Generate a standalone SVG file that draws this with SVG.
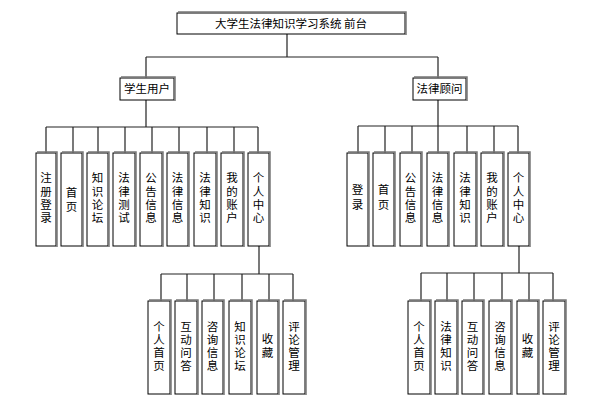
<svg xmlns="http://www.w3.org/2000/svg" width="592" height="400" viewBox="0 0 592 400">
<style>
.b{fill:#fff;stroke:#000;stroke-width:1}
.s{fill:none;stroke:#777;stroke-width:1.5}
.t{font-family:"Noto Sans CJK SC","Noto Sans CJK JP",sans-serif;font-size:11.5px;fill:#000;text-anchor:middle}
.c{fill:none;stroke:#222;stroke-width:1.2}
</style>
<rect width="592" height="400" fill="#fff"/>
<g id="connectors">
<path class="c" d="M287 34V57M146 57H438M146 57V78M438 57V78"/>
<path class="c" d="M146 100V127M46 127H258M46 127V153M73 127V153M98 127V153M125 127V153M152 127V153M179 127V153M207 127V153M234 127V153M258 127V153"/>
<path class="c" d="M438 100V126M358 126H518M358 126V153M385 126V153M412 126V153M438 126V153M467 126V153M494 126V153M518 126V153"/>
<path class="c" d="M259 246V274M161 274H293M161 274V301M187 274V301M214 274V301M242 274V301M269 274V301M293 274V301"/>
<path class="c" d="M519 246V273M421 273H553M421 273V301M447 273V301M474 273V301M502 273V301M529 273V301M553 273V301"/>
</g>
<g id="root"><rect class="b" x="177" y="13" width="228" height="21"/><path class="s" d="M178 12H406V35"/><text class="t" x="291" y="27.5">大学生法律知识学习系统 前台</text></g>
<g id="student"><rect class="b" x="120" y="78" width="54" height="22"/><path class="s" d="M121 77H175V101"/><text class="t" x="147" y="93">学生用户</text></g>
<g id="lawyer"><rect class="b" x="413" y="78" width="53" height="22"/><path class="s" d="M414 77H467V101"/><text class="t" x="439.5" y="93">法律顾问</text></g>

<g id="s1"><rect class="b" x="36" y="153" width="20" height="93"/><path class="s" d="M37 152H57V247"/><text class="t" x="46"><tspan x="46" y="182">注</tspan><tspan x="46" y="196">册</tspan><tspan x="46" y="209">登</tspan><tspan x="46" y="222">录</tspan></text></g>
<g id="s2"><rect class="b" x="61" y="153" width="21" height="93"/><path class="s" d="M62 152H83V247"/><text class="t"><tspan x="71.5" y="197">首</tspan><tspan x="71.5" y="211">页</tspan></text></g>
<g id="s3"><rect class="b" x="87" y="153" width="21" height="93"/><path class="s" d="M88 152H109V247"/><text class="t"><tspan x="97.5" y="182">知</tspan><tspan x="97.5" y="196">识</tspan><tspan x="97.5" y="209">论</tspan><tspan x="97.5" y="222">坛</tspan></text></g>
<g id="s4"><rect class="b" x="113" y="153" width="22" height="93"/><path class="s" d="M114 152H136V247"/><text class="t"><tspan x="124" y="182">法</tspan><tspan x="124" y="196">律</tspan><tspan x="124" y="209">测</tspan><tspan x="124" y="222">试</tspan></text></g>
<g id="s5"><rect class="b" x="140" y="153" width="22" height="93"/><path class="s" d="M141 152H163V247"/><text class="t"><tspan x="151" y="182">公</tspan><tspan x="151" y="196">告</tspan><tspan x="151" y="209">信</tspan><tspan x="151" y="222">息</tspan></text></g>
<g id="s6"><rect class="b" x="167" y="153" width="21" height="93"/><path class="s" d="M168 152H189V247"/><text class="t"><tspan x="177.5" y="182">法</tspan><tspan x="177.5" y="196">律</tspan><tspan x="177.5" y="209">信</tspan><tspan x="177.5" y="222">息</tspan></text></g>
<g id="s7"><rect class="b" x="194" y="153" width="22" height="93"/><path class="s" d="M195 152H217V247"/><text class="t"><tspan x="205" y="182">法</tspan><tspan x="205" y="196">律</tspan><tspan x="205" y="209">知</tspan><tspan x="205" y="222">识</tspan></text></g>
<g id="s8"><rect class="b" x="221" y="153" width="22" height="93"/><path class="s" d="M222 152H244V247"/><text class="t"><tspan x="232" y="182">我</tspan><tspan x="232" y="196">的</tspan><tspan x="232" y="209">账</tspan><tspan x="232" y="222">户</tspan></text></g>
<g id="s9"><rect class="b" x="248" y="153" width="21" height="93"/><path class="s" d="M249 152H270V247"/><text class="t"><tspan x="258.5" y="182">个</tspan><tspan x="258.5" y="196">人</tspan><tspan x="258.5" y="209">中</tspan><tspan x="258.5" y="222">心</tspan></text></g>

<g id="l1"><rect class="b" x="347" y="153" width="21" height="93"/><path class="s" d="M348 152H369V247"/><text class="t"><tspan x="357.5" y="194">登</tspan><tspan x="357.5" y="209">录</tspan></text></g>
<g id="l2"><rect class="b" x="373" y="153" width="21" height="93"/><path class="s" d="M374 152H395V247"/><text class="t"><tspan x="383.5" y="194">首</tspan><tspan x="383.5" y="209">页</tspan></text></g>
<g id="l3"><rect class="b" x="400" y="153" width="21" height="93"/><path class="s" d="M401 152H422V247"/><text class="t"><tspan x="410.5" y="182">公</tspan><tspan x="410.5" y="196">告</tspan><tspan x="410.5" y="209">信</tspan><tspan x="410.5" y="222">息</tspan></text></g>
<g id="l4"><rect class="b" x="427" y="153" width="21" height="93"/><path class="s" d="M428 152H449V247"/><text class="t"><tspan x="437.5" y="182">法</tspan><tspan x="437.5" y="196">律</tspan><tspan x="437.5" y="209">信</tspan><tspan x="437.5" y="222">息</tspan></text></g>
<g id="l5"><rect class="b" x="454" y="153" width="22" height="93"/><path class="s" d="M455 152H477V247"/><text class="t"><tspan x="465" y="182">法</tspan><tspan x="465" y="196">律</tspan><tspan x="465" y="209">知</tspan><tspan x="465" y="222">识</tspan></text></g>
<g id="l6"><rect class="b" x="481" y="153" width="22" height="93"/><path class="s" d="M482 152H504V247"/><text class="t"><tspan x="492" y="182">我</tspan><tspan x="492" y="196">的</tspan><tspan x="492" y="209">账</tspan><tspan x="492" y="222">户</tspan></text></g>
<g id="l7"><rect class="b" x="508" y="153" width="21" height="93"/><path class="s" d="M509 152H530V247"/><text class="t"><tspan x="518.5" y="182">个</tspan><tspan x="518.5" y="196">人</tspan><tspan x="518.5" y="209">中</tspan><tspan x="518.5" y="222">心</tspan></text></g>

<g id="sp1"><rect class="b" x="148" y="301" width="22" height="93"/><path class="s" d="M149 300H171V395"/><text class="t"><tspan x="159" y="331">个</tspan><tspan x="159" y="344">人</tspan><tspan x="159" y="357">首</tspan><tspan x="159" y="370">页</tspan></text></g>
<g id="sp2"><rect class="b" x="175" y="301" width="22" height="93"/><path class="s" d="M176 300H198V395"/><text class="t"><tspan x="186" y="331">互</tspan><tspan x="186" y="344">动</tspan><tspan x="186" y="357">问</tspan><tspan x="186" y="370">答</tspan></text></g>
<g id="sp3"><rect class="b" x="202" y="301" width="21" height="93"/><path class="s" d="M203 300H224V395"/><text class="t"><tspan x="212.5" y="331">咨</tspan><tspan x="212.5" y="344">询</tspan><tspan x="212.5" y="357">信</tspan><tspan x="212.5" y="370">息</tspan></text></g>
<g id="sp4"><rect class="b" x="229" y="301" width="22" height="93"/><path class="s" d="M230 300H252V395"/><text class="t"><tspan x="240" y="331">知</tspan><tspan x="240" y="344">识</tspan><tspan x="240" y="357">论</tspan><tspan x="240" y="370">坛</tspan></text></g>
<g id="sp5"><rect class="b" x="257" y="301" width="21" height="93"/><path class="s" d="M258 300H279V395"/><text class="t"><tspan x="267.5" y="343">收</tspan><tspan x="267.5" y="357">藏</tspan></text></g>
<g id="sp6"><rect class="b" x="283" y="301" width="22" height="93"/><path class="s" d="M284 300H306V395"/><text class="t"><tspan x="294" y="331">评</tspan><tspan x="294" y="344">论</tspan><tspan x="294" y="357">管</tspan><tspan x="294" y="370">理</tspan></text></g>

<g id="lp1"><rect class="b" x="408" y="301" width="22" height="93"/><path class="s" d="M409 300H431V395"/><text class="t"><tspan x="419" y="331">个</tspan><tspan x="419" y="344">人</tspan><tspan x="419" y="357">首</tspan><tspan x="419" y="370">页</tspan></text></g>
<g id="lp2"><rect class="b" x="435" y="301" width="22" height="93"/><path class="s" d="M436 300H458V395"/><text class="t"><tspan x="446" y="331">法</tspan><tspan x="446" y="344">律</tspan><tspan x="446" y="357">知</tspan><tspan x="446" y="370">识</tspan></text></g>
<g id="lp3"><rect class="b" x="462" y="301" width="21" height="93"/><path class="s" d="M463 300H484V395"/><text class="t"><tspan x="472.5" y="331">互</tspan><tspan x="472.5" y="344">动</tspan><tspan x="472.5" y="357">问</tspan><tspan x="472.5" y="370">答</tspan></text></g>
<g id="lp4"><rect class="b" x="489" y="301" width="22" height="93"/><path class="s" d="M490 300H512V395"/><text class="t"><tspan x="500" y="331">咨</tspan><tspan x="500" y="344">询</tspan><tspan x="500" y="357">信</tspan><tspan x="500" y="370">息</tspan></text></g>
<g id="lp5"><rect class="b" x="517" y="301" width="21" height="93"/><path class="s" d="M518 300H539V395"/><text class="t"><tspan x="527.5" y="343">收</tspan><tspan x="527.5" y="357">藏</tspan></text></g>
<g id="lp6"><rect class="b" x="543" y="301" width="22" height="93"/><path class="s" d="M544 300H566V395"/><text class="t"><tspan x="554" y="331">评</tspan><tspan x="554" y="344">论</tspan><tspan x="554" y="357">管</tspan><tspan x="554" y="370">理</tspan></text></g>
</svg>
